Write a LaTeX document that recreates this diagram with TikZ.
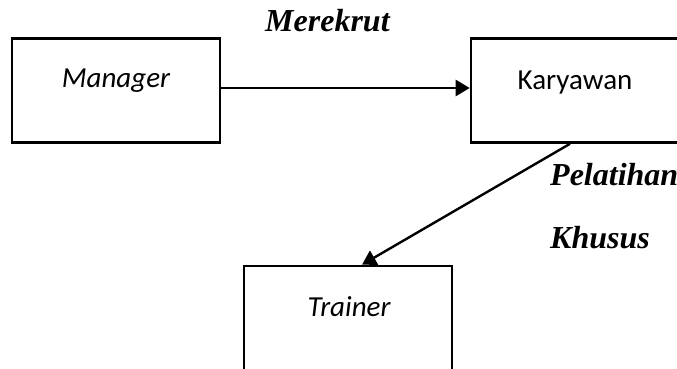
\documentclass[tikz,border=0pt]{standalone}
\usepackage{fontspec}
\setmainfont{Liberation Serif}
\newfontfamily\calfont{Carlito}
\usetikzlibrary{arrows.meta}
\tikzset{
  box/.style={draw=black, line width=2.6pt, minimum width=208pt, minimum height=104pt, inner sep=0pt},
  boxtext/.style={font=\calfont\fontsize{29}{31}\selectfont, anchor=base, inner sep=0pt},
  edgelabel/.style={font=\fontsize{32}{34}\selectfont\bfseries\itshape, anchor=base west, inner sep=0pt},
  conn/.style={line width=2.4pt, -{Triangle[length=14pt,width=16pt]}}
}
\begin{document}
\begin{tikzpicture}[x=1pt,y=-1pt]
\useasboundingbox (0,0) rectangle (677,369);
\clip (0,0) rectangle (677,369);
\fill[white] (0,0) rectangle (677,369);
\node[box] (manager) at (116,90.5) {};
\node[box, minimum width=216pt] (karyawan) at (579,90.5) {};
\node[box] (trainer) at (348,318) {};
\node[boxtext] (managertext) at (116,88) {\itshape Manager};
\node[boxtext] (karyawantext) at (575,89) {Karyawan};
\node[boxtext] (trainertext) at (349,316) {\itshape Trainer};
\node[edgelabel] (merekrut) at (265,32) {Merekrut};
\node[edgelabel] (pelatihan) at (550,185) {Pelatihan};
\node[edgelabel] (khusus) at (550,248) {Khusus};
\draw[conn] ([yshift=2.5pt]manager.east) -- ([yshift=2.5pt]karyawan.west);
\draw[conn] ([xshift=-9pt]karyawan.south) -- ([xshift=14pt]trainer.north);
\end{tikzpicture}
\end{document}
